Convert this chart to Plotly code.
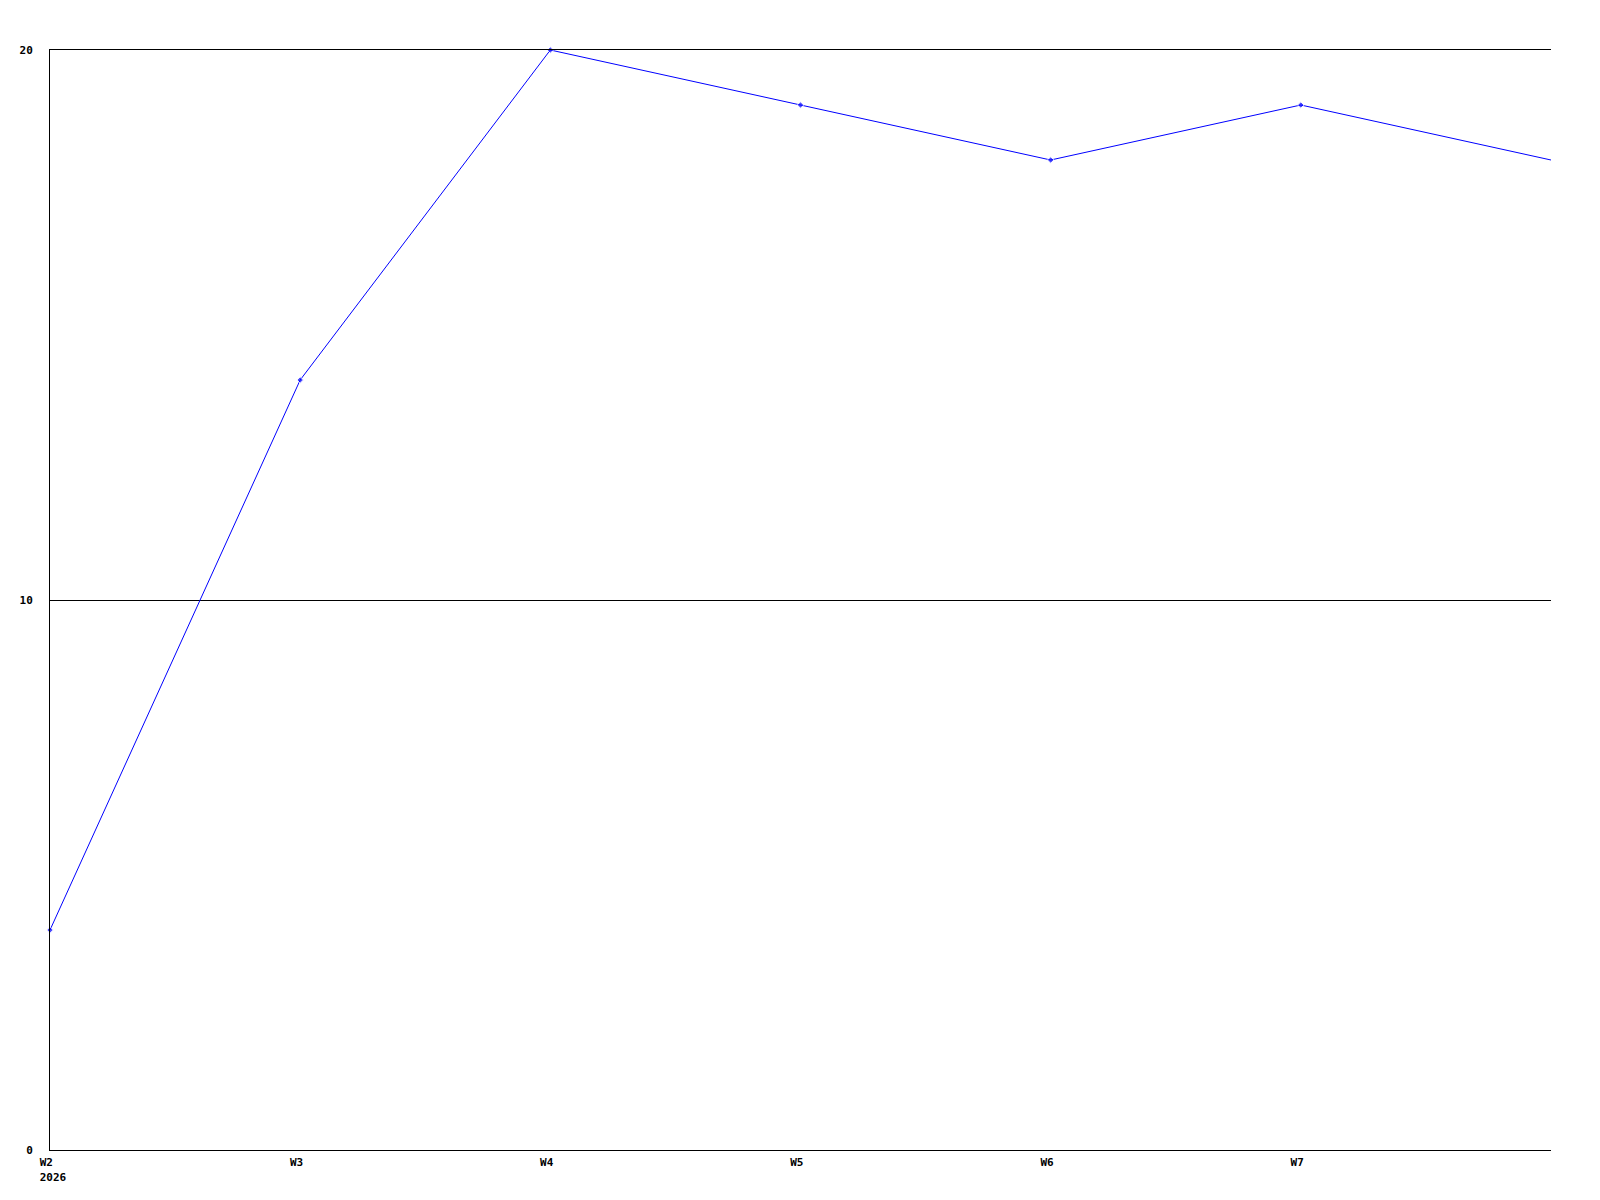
import plotly.graph_objects as go

weeks = ["W2", "W3", "W4", "W5", "W6", "W7", "W8"]
values = [4, 14, 20, 19, 18, 19, 18]
tick_labels = ["W2", "W3", "W4", "W5", "W6", "W7"]
first_label_year = "2026"
y_ticks = [0, 10, 20]

# labels in the reference are left-aligned; pad to equal width with nbsp
pad = "&nbsp;&nbsp;"
tick_text = [lbl + pad for lbl in tick_labels]
tick_text[0] = tick_text[0] + "<br>" + first_label_year

# last point sits on the plot edge and shows no marker in the reference
marker_sizes = [5] * (len(weeks) - 1) + [0]

fig = go.Figure()
fig.add_trace(go.Scatter(
    x=list(range(len(weeks))), y=values, mode="lines+markers",
    line=dict(color="#0000ff", width=1),
    marker=dict(symbol="diamond", size=marker_sizes, color="#0000ff"),
    hovertext=weeks, cliponaxis=False,
))

font = dict(family="DejaVu Sans Mono", size=11, color="black", weight="bold")
fig.update_layout(
    width=1600, height=1200,
    margin=dict(l=42, r=57, t=42, b=58, autoexpand=False),
    paper_bgcolor="white", plot_bgcolor="white",
    showlegend=False,
    font=font,
)
fig.update_xaxes(
    range=[0, len(weeks) - 1],
    tickmode="array", tickvals=list(range(len(tick_labels))), ticktext=tick_text,
    showgrid=False, zeroline=False,
    showline=True, linecolor="black", linewidth=1, mirror=True,
    ticks="", ticklabelstandoff=2, ticklabelshift=3, tickfont=font,
)
fig.update_yaxes(
    range=[0, 20],
    tickmode="array", tickvals=y_ticks,
    showgrid=True, gridcolor="black", gridwidth=1,
    zeroline=False,
    showline=True, linecolor="black", linewidth=1,
    ticks="", ticklabelstandoff=14, tickfont=font,
)

fig.write_html("out.html")
